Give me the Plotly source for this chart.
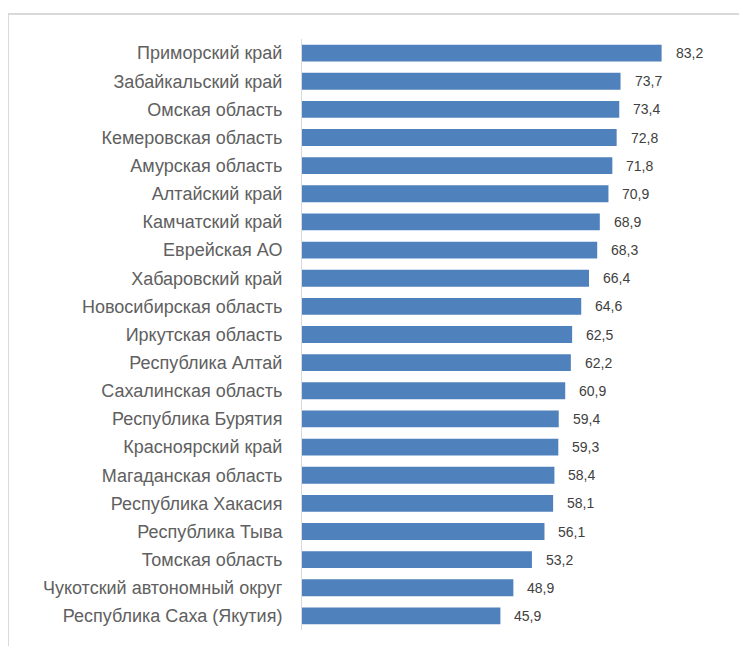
import plotly.graph_objects as go

regions = [
    "Приморский край", "Забайкальский край", "Омская область", "Кемеровская область",
    "Амурская область", "Алтайский край", "Камчатский край", "Еврейская АО",
    "Хабаровский край", "Новосибирская область", "Иркутская область", "Республика Алтай",
    "Сахалинская область", "Республика Бурятия", "Красноярский край", "Магаданская область",
    "Республика Хакасия", "Республика Тыва", "Томская область", "Чукотский автономный округ",
    "Республика Саха (Якутия)",
]
values = [83.2, 73.7, 73.4, 72.8, 71.8, 70.9, 68.9, 68.3, 66.4, 64.6, 62.5, 62.2,
          60.9, 59.4, 59.3, 58.4, 58.1, 56.1, 53.2, 48.9, 45.9]

labels = [f"{v:.1f}".replace(".", ",") for v in values]

fig = go.Figure(go.Bar(
    x=values, y=regions, orientation="h",
    marker=dict(color="#4f81bd", line=dict(color="#4f81bd", width=0)),
    hoverinfo="skip",
))

for r, v, t in zip(regions, values, labels):
    fig.add_annotation(x=v, y=r, text=t, showarrow=False, xanchor="left",
                       xshift=12, font=dict(size=14, color="#404040",
                                            family="Liberation Sans"))

W, H = 747, 646
OFF = 8  # page body margin
L, R, T, B = 302 - OFF, 64, 39 - OFF, 24

fig.update_layout(
    width=W, height=H,
    margin=dict(l=L, r=R, t=T, b=B),
    paper_bgcolor="white", plot_bgcolor="white",
    bargap=0.4, showlegend=False,
    font=dict(family="Liberation Sans"),
    xaxis=dict(range=[0, 90], visible=False),
    yaxis=dict(autorange="reversed", showline=True, linecolor="#d9d9d9", linewidth=1,
               showgrid=False, ticks="outside", ticklen=0, ticklabelstandoff=15,
               tickfont=dict(size=18, color="#606060", family="Liberation Sans")),
)

# outer frame (top and left edges visible)
pw = W - L - R
ph = H - T - B
def px(xpix):
    return (xpix - OFF - L) / pw
def py(ypix):
    return 1 - (ypix - OFF - T) / ph
fig.add_shape(type="line", xref="paper", yref="paper", x0=px(8), x1=px(770),
              y0=py(14), y1=py(14), line=dict(color="#d9d9d9", width=2))
fig.add_shape(type="line", xref="paper", yref="paper", x0=px(8), x1=px(8),
              y0=py(14), y1=py(670), line=dict(color="#d9d9d9", width=2))

fig.write_html("out.html")
